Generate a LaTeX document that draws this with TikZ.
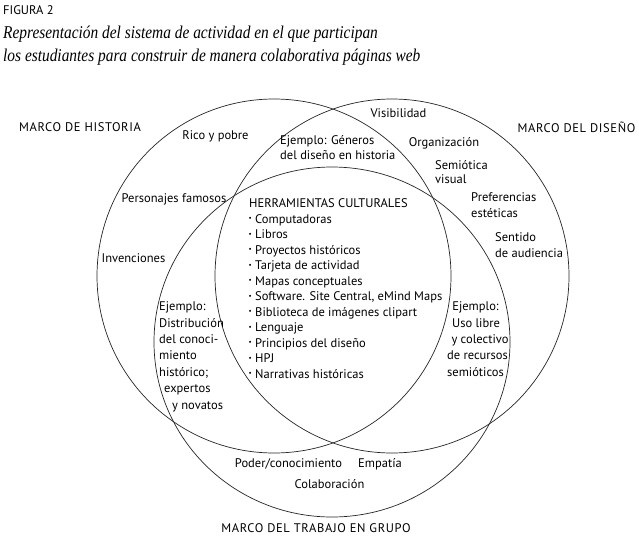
\documentclass[tikz,border=0pt]{standalone}
\usepackage{fontspec}
\setmainfont{PT Sans}
\newfontfamily\capsfont[LetterSpace=5]{PT Sans}
\newfontfamily\titlefont[FakeStretch=0.855]{Liberation Serif}
\begin{document}
\begin{tikzpicture}[x=1pt,y=-1pt,
  lbl/.style={font=\fontsize{12.5}{15.5}\selectfont, inner sep=0pt, anchor=base},
  lbll/.style={lbl, anchor=base west},
  frame/.style={lbl, font=\capsfont\fontsize{12.5}{15.5}\selectfont},
  ttl/.style={font=\titlefont\itshape\fontsize{18}{22}\selectfont, inner sep=0pt, anchor=base west},
  circ/.style={draw=black!85, line width=0.7pt},
  bul/.style={font=\fontsize{7}{7}\selectfont, inner sep=0pt, anchor=base west}]
\useasboundingbox (0,0) rectangle (639,535);
\fill[white] (0,0) rectangle (639,535);
% circles
\draw[circ] (274,276) circle[radius=177];
\draw[circ] (392,276) circle[radius=177];
\draw[circ] (332,342) circle[x radius=178, y radius=175];
% title
\node[lbll] (fig) at (3,15) {FIGURA 2};
\node[ttl] (t1) at (3,38.5) {Representación del sistema de actividad en el que participan};
\node[ttl] (t2) at (3,61.5) {los estudiantes para construir de manera colaborativa páginas web};
% outer labels
\node[frame] (mh) at (80,131.5) {MARCO DE HISTORIA};
\node[frame] (md) at (576.5,132.5) {MARCO DEL DISEÑO};
\node[frame] (mt) at (316,532.5) {MARCO DEL TRABAJO EN GRUPO};
% historia
\node[lbl] (rico) at (215.5,139.5) {Rico y pobre};
\node[lbl] (pers) at (174,202.5) {Personajes famosos};
\node[lbl] (inv) at (133.5,262.5) {Invenciones};
% historia ∩ diseño
\node[lbll] (eg1) at (280,144.5) {Ejemplo: Géneros};
\node[lbll] (eg2) at (280,159.5) {del diseño en historia};
% diseño
\node[lbl] (vis) at (398.5,117.5) {Visibilidad};
\node[lbl] (org) at (444,146.5) {Organización};
\node[lbll] (sem1) at (435,169.5) {Semiótica};
\node[lbll] (sem2) at (435,183.5) {visual};
\node[lbll] (pre1) at (471,201.5) {Preferencias};
\node[lbll] (pre2) at (471,217.5) {estéticas};
\node[lbll] (sen1) at (495,241.5) {Sentido};
\node[lbll] (sen2) at (495,257.5) {de audiencia};
% historia ∩ trabajo
\node[lbll] (ej1) at (159,310.5) {Ejemplo:};
\node[lbll] (ej2) at (159,327.5) {Distribución};
\node[lbll] (ej3) at (159,343.5) {del conoci-};
\node[lbll] (ej4) at (159,359.5) {miento};
\node[lbll] (ej5) at (159,376.5) {histórico;};
\node[lbll] (ej6) at (164,392.5) {expertos};
\node[lbll] (ej7) at (172,409.5) {y novatos};
% diseño ∩ trabajo
\node[lbl] (er1) at (475.5,310.5) {Ejemplo:};
\node[lbl] (er2) at (476,327.5) {Uso libre};
\node[lbl] (er3) at (480,343.5) {y colectivo};
\node[lbl] (er4) at (477.5,359.5) {de recursos};
\node[lbl] (er5) at (475.5,376.5) {semióticos};
% centre
\node[lbll] (hc) at (249,207.5) {HERRAMIENTAS CULTURALES};
\foreach \t [count=\k] in {Computadoras, Libros, Proyectos históricos, Tarjeta de actividad, Mapas conceptuales, {Software. Site Central, eMind Maps}, Biblioteca de imágenes clipart, Lenguaje, Principios del diseño, HPJ, Narrativas históricas}{
  \node[bul] (b\k) at (248.5,{207.5+15.5*\k-2.2}) {•};
  \node[lbll] (i\k) at (255,{207.5+15.5*\k}) {\t};
}
% trabajo en grupo
\node[lbl] (pod) at (288.5,467.5) {Poder/conocimiento};
\node[lbl] (emp) at (380,467.5) {Empatía};
\node[lbl] (col) at (329.5,488.5) {Colaboración};
\end{tikzpicture}
\end{document}
